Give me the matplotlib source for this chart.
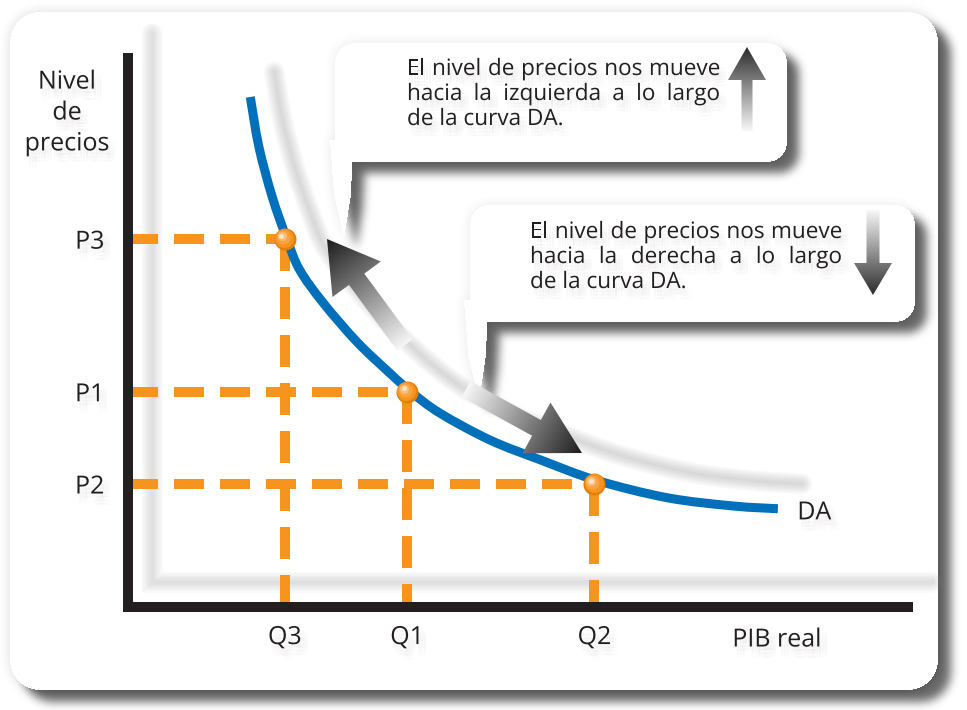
import numpy as np
import matplotlib
matplotlib.use("Agg")
import matplotlib.pyplot as plt
import matplotlib.transforms as mtransforms
import matplotlib.patheffects as pe
from matplotlib.patches import Polygon, PathPatch
from matplotlib.path import Path

plt.rcParams["font.family"] = ["Open Sans", "DejaVu Sans"]

# ---------------------------------------------------------------
# Datos
# ---------------------------------------------------------------
pib_curva = [1.56, 1.67, 1.84, 2.03, 2.19, 2.49, 2.92, 3.34, 3.60, 3.98,
             4.62, 5.26, 5.97, 6.88, 7.72, 8.29]
nivel_curva = [9.29, 8.38, 7.47, 6.69, 6.14, 5.54, 4.83, 4.26, 3.93, 3.53,
               3.04, 2.68, 2.31, 1.99, 1.84, 1.79]

etiquetas_q = ["Q3", "Q1", "Q2"]
valores_q = [2.0, 3.56, 5.95]
etiquetas_p = ["P3", "P1", "P2"]
valores_p = [6.70, 3.92, 2.24]

texto_izquierda = ["El nivel de precios nos mueve",
                   "hacia la izquierda a lo largo",
                   "de la curva DA."]
texto_derecha = ["El nivel de precios nos mueve",
                 "hacia la derecha a lo largo",
                 "de la curva DA."]

AZUL = "#0070BA"
NARANJA = "#F7941E"
NEGRO = "#231F20"

W, H = 967, 710
fig = plt.figure(figsize=(W / 100, H / 100), dpi=100)
fig.patch.set_facecolor("white")

# fondo decorativo en pixeles (y hacia abajo)
bg = fig.add_axes([0, 0, 1, 1], zorder=0)
bg.axis("off")

# grafico principal
ax = fig.add_axes([128 / W, (H - 607) / H, 780 / W, 549 / H], zorder=1)
ax.patch.set_alpha(0)

# capa superior para flechas y textos de las llamadas
fx = fig.add_axes([0, 0, 1, 1], zorder=2)
fx.axis("off")
fx.patch.set_alpha(0)

sombra_txt = [pe.SimplePatchShadow(offset=(dx, dy), shadow_rgbFace="#808080", alpha=0.022)
              for dx in (1.5, 3.5, 5.5) for dy in (-3, -5.5, -8)]
sombra_txt.append(pe.Normal())

# ---------------------------------------------------------------
# Sombras difuminadas (marco y globos de texto)
# ---------------------------------------------------------------
yy, xx = np.mgrid[0:H, 0:W] + 0.5


def caja_redondeada(x0, y0, x1, y1, r):
    cx, cy = (x0 + x1) / 2, (y0 + y1) / 2
    hx, hy = (x1 - x0) / 2 - r, (y1 - y0) / 2 - r
    dx = np.maximum(np.abs(xx - cx) - hx, 0)
    dy = np.maximum(np.abs(yy - cy) - hy, 0)
    return (np.hypot(dx, dy) <= r).astype(float)


def poligono(pts):
    dentro = Path(pts).contains_points(np.c_[xx.ravel(), yy.ravel()])
    return dentro.reshape(H, W).astype(float)


def desplazar(m, dx, dy):
    out = np.zeros_like(m)
    out[dy:, dx:] = m[:H - dy, :W - dx]
    return out


def caja_media(m, r, eje):
    pad = [(0, 0), (0, 0)]
    pad[eje] = (r + 1, r)
    c = np.cumsum(np.pad(m, pad), axis=eje)
    n = m.shape[eje]
    hi = np.take(c, np.arange(2 * r + 1, 2 * r + 1 + n), axis=eje)
    lo = np.take(c, np.arange(0, n), axis=eje)
    return (hi - lo) / (2 * r + 1)


def desenfocar(m, r):
    for _ in range(3):
        m = caja_media(m, r, 0)
        m = caja_media(m, r, 1)
    return m


marco = caja_redondeada(10, 12, 938, 690, 30)
sombra = 0.88 * desenfocar(desplazar(marco, 13, 12), 4) + 0.22 * desenfocar(marco, 5)
sombra *= (1 - marco)

globo1 = np.maximum(caja_redondeada(335, 43, 787, 162, 20),
                    poligono([(330, 140), (353, 140), (351, 195), (344, 238), (334, 195)]))
globo2 = np.maximum(caja_redondeada(470, 205, 915, 322, 20),
                    poligono([(464, 300), (488, 300), (486, 355), (479, 402), (468, 355)]))
for g in (globo1, globo2):
    s = 0.9 * desenfocar(desplazar(g, 12, 11), 4) + 0.14 * desenfocar(g, 5)
    s *= (1 - g)
    sombra += s

rgba = np.zeros((H, W, 4))
rgba[..., :3] = 0.2
rgba[..., 3] = np.clip(sombra, 0, 1) * 0.82
bg.imshow(rgba, extent=(0, W, H, 0), origin="upper", interpolation="nearest", aspect="auto")

# ---------------------------------------------------------------
# Grafico DA
# ---------------------------------------------------------------
desp = mtransforms.ScaledTranslation(0.24, 0.25, fig.dpi_scale_trans)


def trazo_suave(x, y):
    # Catmull-Rom -> Bezier cubica para dibujar la curva sin quiebres
    p = np.column_stack([x, y])
    q = np.vstack([p[0], p, p[-1]])
    verts, codes = [p[0]], [Path.MOVETO]
    for i in range(1, len(q) - 2):
        c1 = q[i] + (q[i + 1] - q[i - 1]) / 6
        c2 = q[i + 1] - (q[i + 2] - q[i]) / 6
        verts += [c1, c2, q[i + 1]]
        codes += [Path.CURVE4] * 3
    return Path(verts, codes)


ruta_da = trazo_suave(pib_curva, nivel_curva)


def linea_suave(ruta, tr, ancho, color, alpha, n=8):
    for k in range(n):
        ax.add_patch(PathPatch(ruta, transform=tr, fill=False, edgecolor=color,
                               lw=ancho * (k + 1) / n, alpha=alpha, capstyle="round",
                               zorder=1, clip_on=False))


# sombras claras de los ejes y de la curva
linea_suave(Path([(0, 1), (0, 0), (1, 0)]), ax.transAxes + desp, 15, "#a0a0a0", 0.045)
linea_suave(ruta_da, ax.transData + desp, 15, "#9a9a9a", 0.05)

# lineas discontinuas
for q, p in zip(valores_q, valores_p):
    ax.plot([0, q], [p, p], color=NARANJA, lw=7.2, dashes=(3.0, 1.6), zorder=2,
            dash_capstyle="butt")
    ax.plot([q, q], [p, 0], color=NARANJA, lw=7.2, dashes=(3.2, 1.6), zorder=2,
            dash_capstyle="butt")

# curva de demanda agregada
ax.add_patch(PathPatch(ruta_da, fill=False, edgecolor=AZUL, lw=6.5, capstyle="butt",
                       joinstyle="round", zorder=4))
ax.annotate("DA", xy=(pib_curva[-1], nivel_curva[-1]), xytext=(14, -3),
            textcoords="offset points", fontsize=18, color=NEGRO, va="center",
            ha="left", path_effects=sombra_txt)

# puntos con brillo
capas = [(22, "#E27F0C", 0, 0), (19, "#F7941E", -0.8, 0.8), (14, "#F9A443", -2, 2),
         (9, "#FBBD77", -3, 3), (5, "#FEE3C3", -3.5, 3.5)]
for q, p in zip(valores_q, valores_p):
    for d, c, dx, dy in capas:
        tr = ax.transData + mtransforms.ScaledTranslation(dx / 100, dy / 100, fig.dpi_scale_trans)
        ax.plot([q], [p], "o", ms=d * 0.72, color=c, mec="none", transform=tr, zorder=6)

ax.set_xlim(0, 9.95)
ax.set_ylim(0, 10)
for lado in ("top", "right"):
    ax.spines[lado].set_visible(False)
for lado in ("left", "bottom"):
    ax.spines[lado].set_linewidth(7.2)
    ax.spines[lado].set_color(NEGRO)
    ax.spines[lado].set_capstyle("projecting")

ax.set_xticks(valores_q, etiquetas_q)
ax.set_yticks(valores_p, etiquetas_p)
ax.tick_params(axis="x", length=0, labelsize=18, labelcolor=NEGRO, pad=13)
ax.tick_params(axis="y", length=0, labelsize=18, labelcolor=NEGRO, pad=17)
for lab in ax.get_xticklabels() + ax.get_yticklabels():
    lab.set_path_effects(sombra_txt)

ax.set_xlabel("PIB real", fontsize=18, color=NEGRO, path_effects=sombra_txt)
ax.xaxis.set_label_coords((777 - 128) / 780, (607 - 640) / 549)
ax.xaxis.label.set_va("center")
ax.set_ylabel("Nivel\nde\nprecios", fontsize=18, color=NEGRO, rotation=0,
              ha="center", va="center", linespacing=1.31, path_effects=sombra_txt)
ax.yaxis.set_label_coords((67 - 128) / 780, (607 - 113) / 549)

# ---------------------------------------------------------------
# Flechas con degradado
# ---------------------------------------------------------------


def flecha_degradada(cola, punta, ancho, ancho_cabeza, largo_cabeza,
                     claro=(0.97, 0.97, 0.97), oscuro=(0.11, 0.11, 0.11)):
    cola = np.array(cola, float)
    punta = np.array(punta, float)
    d = punta - cola
    L = np.hypot(*d)
    u = d / L
    n = np.array([-u[1], u[0]])
    base = punta - u * largo_cabeza
    pts = np.array([cola + n * ancho / 2, base + n * ancho / 2, base + n * ancho_cabeza / 2,
                    punta, base - n * ancho_cabeza / 2, base - n * ancho / 2,
                    cola - n * ancho / 2])
    poly = Polygon(pts, closed=True, facecolor="none", edgecolor="none")
    fx.add_patch(poly)
    x0, y0 = pts.min(axis=0) - 2
    x1, y1 = pts.max(axis=0) + 2
    gx, gy = np.meshgrid(np.linspace(x0, x1, 240), np.linspace(y0, y1, 240))
    t = np.clip(((gx - cola[0]) * u[0] + (gy - cola[1]) * u[1]) / L, 0, 1)
    c0, c1 = np.array(claro), np.array(oscuro)
    img = c0 + (c1 - c0) * t[..., None]
    im = fx.imshow(img, extent=(x0, x1, y1, y0), origin="upper",
                   interpolation="bilinear", aspect="auto", zorder=3)
    im.set_clip_path(poly)


flecha_degradada((405, 345), (327, 239), 19, 60, 50)
flecha_degradada((466, 389), (582, 453), 18, 58, 52)
flecha_degradada((747, 131), (747, 47), 11, 38, 33, oscuro=(0.17, 0.17, 0.17))
flecha_degradada((873, 210), (873, 295), 13, 38, 32, oscuro=(0.17, 0.17, 0.17))

# ---------------------------------------------------------------
# Textos de las llamadas (justificados)
# ---------------------------------------------------------------
renderer = fig.canvas.get_renderer()


def tam_letra(linea, ancho, fs0=15.0):
    t = fx.text(0, 0, linea, fontsize=fs0)
    w = t.get_window_extent(renderer).width
    t.remove()
    return fs0 * ancho / w


def parrafo(lineas, x, bases, ancho, fs):
    for i, (linea, yb) in enumerate(zip(lineas, bases)):
        if i < len(lineas) - 1:
            palabras = linea.split()
            textos = [fx.text(x, yb, p, fontsize=fs, color=NEGRO, va="baseline",
                              ha="left", path_effects=sombra_txt) for p in palabras]
            anchos = [t.get_window_extent(renderer).width for t in textos]
            hueco = (ancho - sum(anchos)) / (len(palabras) - 1)
            xc = x
            for t, w in zip(textos, anchos):
                t.set_x(xc)
                xc += w + hueco
        else:
            fx.text(x, yb, linea, fontsize=fs, color=NEGRO, va="baseline", ha="left",
                    path_effects=sombra_txt)


fs_llamada = min(tam_letra(texto_izquierda[0], 309), 17.0)
parrafo(texto_izquierda, 407, [75, 100, 125], 313, fs_llamada)
parrafo(texto_derecha, 530, [238, 263, 288], 312, fs_llamada)

for capa in (bg, fx):
    capa.set_xlim(0, W)
    capa.set_ylim(H, 0)

fig.savefig("out.png", dpi=100)
